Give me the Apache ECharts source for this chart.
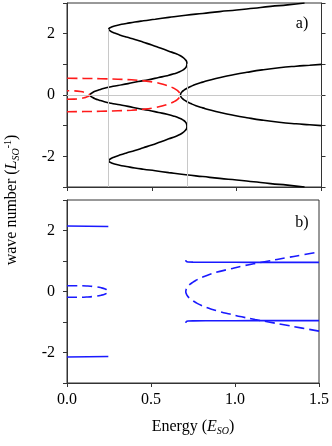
<!DOCTYPE html>
<html>
<head>
<meta charset="utf-8">
<script src="https://cdn.jsdelivr.net/npm/echarts@6/dist/echarts.min.js"></script>
<style>
  html, body { margin: 0; padding: 0; background: #fff; }
  #chart { width: 332px; height: 446px; }
</style>
</head>
<body>
<div id="chart"></div>
<script>
// panel a) upper half (k >= 0); lower half is its mirror
const blackMainE = [0.134, 0.138, 0.148, 0.165, 0.19, 0.22, 0.26, 0.3, 0.36, 0.42, 0.48, 0.54, 0.59, 0.63, 0.66, 0.685, 0.698, 0.705, 0.707,
  0.705, 0.698, 0.685, 0.665, 0.64, 0.6, 0.55, 0.5, 0.45, 0.4, 0.35, 0.31, 0.28, 0.26, 0.25, 0.246,
  0.25, 0.26, 0.28, 0.31, 0.35, 0.4, 0.45, 0.52, 0.6, 0.7, 0.8, 0.9, 1.0, 1.1, 1.2, 1.3, 1.4];
const blackMainK = [0, 0.03, 0.07, 0.12, 0.17, 0.22, 0.27, 0.31, 0.37, 0.44, 0.5, 0.57, 0.63, 0.69, 0.75, 0.82, 0.88, 0.95, 1.02,
  1.09, 1.15, 1.22, 1.29, 1.35, 1.43, 1.53, 1.63, 1.72, 1.81, 1.89, 1.96, 2.02, 2.07, 2.11, 2.145,
  2.18, 2.21, 2.25, 2.29, 2.33, 2.38, 2.42, 2.47, 2.53, 2.6, 2.66, 2.72, 2.77, 2.83, 2.89, 2.94, 3.0];
const blackRightE = [0.669, 0.671, 0.677, 0.688, 0.705, 0.73, 0.76, 0.8, 0.85, 0.91, 0.98, 1.06, 1.15, 1.25, 1.35, 1.43, 1.5];
const blackRightK = [0, 0.05, 0.1, 0.15, 0.21, 0.28, 0.35, 0.42, 0.5, 0.58, 0.66, 0.74, 0.82, 0.89, 0.94, 0.97, 1.0];
const redOuterE = [0.669, 0.662, 0.65, 0.63, 0.6, 0.56, 0.51, 0.45, 0.38, 0.3, 0.2, 0.1, 0];
const redOuterK = [0, 0.08, 0.15, 0.22, 0.29, 0.36, 0.42, 0.465, 0.495, 0.515, 0.53, 0.54, 0.545];
const redInnerE = [0.134, 0.13, 0.122, 0.105, 0.08, 0.04, 0];
const redInnerK = [0, 0.025, 0.05, 0.085, 0.115, 0.135, 0.14];

// panel b)
const blueLeftE = [0, 0.246];
const blueLeftK = [2.15, 2.13];
const blueSmallE = [0.246, 0.241, 0.228, 0.205, 0.17, 0.12, 0.06, 0];
const blueSmallK = [0, 0.04, 0.08, 0.12, 0.155, 0.18, 0.19, 0.19];
const blueRightE = [0.707, 0.71, 0.72, 0.75, 0.9, 1.1, 1.3, 1.5];
const blueRightK = [1.03, 0.985, 0.968, 0.962, 0.958, 0.956, 0.955, 0.955];
const blueParabE = [0.707, 0.709, 0.714, 0.722, 0.733, 0.748, 0.766, 0.79, 0.82, 0.86, 0.91, 0.97, 1.04, 1.12, 1.2, 1.3, 1.4, 1.5];
const blueParabK = [0, 0.06, 0.12, 0.18, 0.24, 0.3, 0.36, 0.43, 0.5, 0.58, 0.66, 0.74, 0.83, 0.92, 1.0, 1.1, 1.2, 1.3];

// grey guide lines
const guideE = [0.246, 0.707];
const guideTopK = [2.145, 1.02];

const yTicks = [-2, 0, 2];
const xTickLabels = ['0.0', '0.5', '1.0', '1.5'];

const FONT = 'Liberation Serif';
const AX = '#333';

// lower half reversed, then upper half (shared vertex once)
const mirror = (E, K) => {
  const up = E.map((e, i) => [e, K[i]]);
  const down = E.map((e, i) => [e, -K[i]]).reverse();
  return K[0] === 0 ? down.concat(up.slice(1)) : down.concat(up);
};
const upper = (E, K) => E.map((e, i) => [e, K[i]]);
const lower = (E, K) => E.map((e, i) => [e, -K[i]]);

const line = (idx, data, color, dashed, smooth) => ({
  type: 'line', xAxisIndex: idx, yAxisIndex: idx === 0 ? 0 : 2,
  data, symbol: 'none', smooth: smooth === undefined ? 0.5 : smooth, z: 3, silent: true,
  lineStyle: { color, width: 1.6, type: dashed ? [10, 5] : 'solid' }
});

const guideStyle = { color: '#c8c8c8', width: 1, type: 'solid' };
const xAxisBase = (idx, labels) => ({
  gridIndex: idx, type: 'value', min: 0, max: 1.5, interval: 0.5,
  axisLine: { onZero: false, lineStyle: { color: AX, width: 1 } },
  axisTick: { length: 4, lineStyle: { color: AX } },
  axisLabel: labels ? {
    formatter: v => xTickLabels[Math.round(v / 0.5)],
    fontFamily: FONT, fontSize: 16, color: '#000', margin: 9
  } : { show: false },
  splitLine: { show: false }
});
const yAxisBase = (idx, pos, labels) => ({
  gridIndex: idx, type: 'value', min: -3, max: 3, interval: 1, position: pos,
  axisLine: { onZero: false, lineStyle: { color: AX, width: 1 } },
  axisTick: { length: 4, lineStyle: { color: AX } },
  axisLabel: labels ? {
    formatter: v => (yTicks.includes(v) ? String(v) : ''),
    fontFamily: FONT, fontSize: 16, color: '#000', margin: 12
  } : { show: false },
  splitLine: { show: false }
});

const option = {
  animation: false,
  grid: [
    { left: 67, right: 10.5, top: 3, height: 184, show: true, borderColor: AX, borderWidth: 1 },
    { left: 67, right: 10.5, top: 200, height: 183, show: true, borderColor: AX, borderWidth: 1 }
  ],
  xAxis: [
    xAxisBase(0, false),
    Object.assign(xAxisBase(1, true), {
      name: '{a|Energy (}{i|E}{s|SO}{a|)}',
      nameLocation: 'middle', nameGap: 35,
      nameTextStyle: {
        rich: {
          a: { fontFamily: FONT, fontSize: 16, color: '#000', lineHeight: 18 },
          i: { fontFamily: FONT, fontSize: 16, fontStyle: 'italic', color: '#000', lineHeight: 18 },
          s: { fontFamily: FONT, fontSize: 10, fontStyle: 'italic', color: '#000', lineHeight: 10, verticalAlign: 'bottom' }
        }
      }
    })
  ],
  yAxis: [
    yAxisBase(0, 'left', true),
    yAxisBase(0, 'right', false),
    yAxisBase(1, 'left', true)
  ],
  series: [
    {
      type: 'line', xAxisIndex: 0, yAxisIndex: 0, data: [], z: 1, clip: false, silent: true,
      markLine: {
        silent: true, symbol: 'none', label: { show: false }, lineStyle: guideStyle,
        data: guideE.map((e, i) => [{ coord: [e, guideTopK[i]] }, { coord: [e, -3] }])
          .concat([[{ coord: [0, 0] }, { coord: [1.5, 0] }]])
      }
    },
    {
      type: 'line', xAxisIndex: 1, yAxisIndex: 2, data: [], z: 1, clip: false, silent: true,
      markLine: {
        silent: true, symbol: 'none', label: { show: false }, lineStyle: guideStyle,
        data: guideE.map(e => [{ coord: [e, 3.43] }, { coord: [e, -3] }])
      }
    },
    line(0, mirror(blackMainE, blackMainK), '#000', false),
    line(0, mirror(blackRightE, blackRightK), '#000', false),
    line(0, mirror(redOuterE, redOuterK), '#ff1a1a', true),
    line(0, mirror(redInnerE, redInnerK), '#ff1a1a', true),
    line(1, upper(blueLeftE, blueLeftK), '#1a1aff', false),
    line(1, lower(blueLeftE, blueLeftK), '#1a1aff', false),
    line(1, mirror(blueSmallE, blueSmallK), '#1a1aff', true),
    line(1, upper(blueRightE, blueRightK), '#1a1aff', false, 0.3),
    line(1, lower(blueRightE, blueRightK), '#1a1aff', false, 0.3),
    line(1, mirror(blueParabE, blueParabK), '#1a1aff', true)
  ],
  graphic: [
    {
      type: 'text', x: 12, y: 200, rotation: Math.PI / 2,
      style: {
        text: '{a|wave number (}{i|L}{s|SO}{p|-1}{a|)}',
        align: 'center', verticalAlign: 'middle',
        rich: {
          a: { fontFamily: FONT, fontSize: 16, fill: '#000', lineHeight: 18 },
          i: { fontFamily: FONT, fontSize: 16, fontStyle: 'italic', fill: '#000', lineHeight: 18 },
          s: { fontFamily: FONT, fontSize: 10, fontStyle: 'italic', fill: '#000', lineHeight: 10, verticalAlign: 'bottom' },
          p: { fontFamily: FONT, fontSize: 10, fill: '#000', lineHeight: 10, verticalAlign: 'top' }
        }
      }
    },
    { type: 'text', x: 302, y: 24, style: { text: 'a)', font: '16px "Liberation Serif"', fill: '#000', align: 'center', verticalAlign: 'middle' } },
    { type: 'text', x: 302, y: 223, style: { text: 'b)', font: '16px "Liberation Serif"', fill: '#000', align: 'center', verticalAlign: 'middle' } }
  ]
};

const chart = echarts.init(document.getElementById('chart'), null, { renderer: 'canvas' });
chart.setOption(option);
</script>
</body>
</html>
